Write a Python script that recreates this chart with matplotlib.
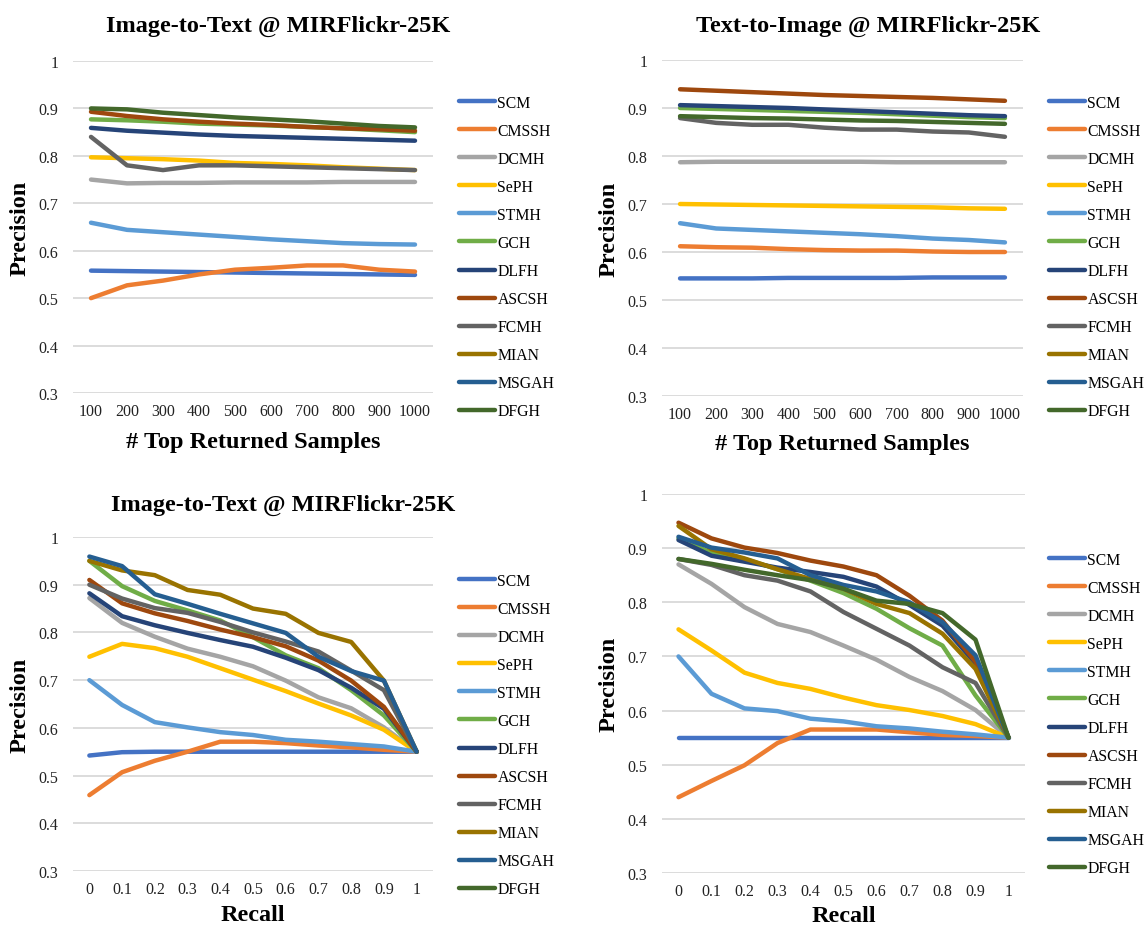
import numpy as np
import matplotlib
matplotlib.use("Agg")
import matplotlib.pyplot as plt

# Figure size in pixels (dpi=100)
W, H = 1146, 929

plt.rcParams['font.family'] = ['Liberation Serif', 'DejaVu Serif']

# Methods and Excel-like colours
methods = ["SCM", "CMSSH", "DCMH", "SePH", "STMH", "GCH",
           "DLFH", "ASCSH", "FCMH", "MIAN", "MSGAH", "DFGH"]
colors = ["#4472C4", "#ED7D31", "#A5A5A5", "#FFC000", "#5B9BD5", "#70AD47",
          "#264478", "#9E480E", "#636363", "#997300", "#255E91", "#43682B"]

topk_labels = ["100", "200", "300", "400", "500", "600", "700", "800", "900", "1000"]
recall_labels = ["0", "0.1", "0.2", "0.3", "0.4", "0.5", "0.6", "0.7", "0.8", "0.9", "1"]

NA = np.nan

# Image-to-Text, precision @ top-k
i2t_topk = {
    "SCM":   [0.558, 0.557, 0.556, 0.555, 0.554, 0.553, 0.552, 0.551, 0.550, 0.549],
    "CMSSH": [0.500, 0.527, 0.537, 0.550, 0.560, 0.564, 0.569, 0.569, 0.560, 0.556],
    "DCMH":  [0.750, 0.742, 0.743, 0.743, 0.744, 0.744, 0.744, 0.745, 0.745, 0.745],
    "SePH":  [0.797, 0.795, 0.793, 0.790, 0.785, 0.783, 0.780, 0.776, 0.773, 0.770],
    "STMH":  [0.659, 0.644, 0.639, 0.634, 0.629, 0.624, 0.620, 0.616, 0.614, 0.613],
    "GCH":   [0.877, 0.875, 0.872, 0.868, 0.866, 0.864, 0.861, 0.858, 0.854, 0.850],
    "DLFH":  [0.859, 0.853, 0.849, 0.845, 0.842, 0.840, 0.838, 0.836, 0.834, 0.832],
    "ASCSH": [0.893, 0.884, 0.877, 0.872, 0.868, 0.865, 0.861, 0.858, 0.856, 0.853],
    "FCMH":  [0.840, 0.780, 0.770, 0.780, 0.780, 0.778, 0.776, 0.774, 0.772, 0.770],
    "MIAN":  [NA] * 10,
    "MSGAH": [NA] * 10,
    "DFGH":  [0.900, 0.898, 0.891, 0.886, 0.881, 0.877, 0.873, 0.868, 0.863, 0.860],
}

# Text-to-Image, precision @ top-k
t2i_topk = {
    "SCM":   [0.545, 0.545, 0.545, 0.546, 0.546, 0.546, 0.546, 0.547, 0.547, 0.547],
    "CMSSH": [0.612, 0.610, 0.609, 0.606, 0.604, 0.603, 0.603, 0.601, 0.600, 0.600],
    "DCMH":  [0.787, 0.788, 0.788, 0.788, 0.788, 0.788, 0.787, 0.787, 0.787, 0.787],
    "SePH":  [0.700, 0.699, 0.698, 0.697, 0.696, 0.695, 0.694, 0.693, 0.691, 0.690],
    "STMH":  [0.660, 0.649, 0.646, 0.643, 0.640, 0.637, 0.633, 0.628, 0.625, 0.620],
    "GCH":   [0.900, 0.898, 0.896, 0.894, 0.892, 0.890, 0.887, 0.884, 0.881, 0.879],
    "DLFH":  [0.906, 0.904, 0.902, 0.900, 0.897, 0.894, 0.891, 0.888, 0.885, 0.883],
    "ASCSH": [0.939, 0.936, 0.933, 0.930, 0.927, 0.925, 0.923, 0.921, 0.918, 0.915],
    "FCMH":  [0.879, 0.869, 0.865, 0.865, 0.859, 0.855, 0.855, 0.851, 0.849, 0.840],
    "MIAN":  [NA] * 10,
    "MSGAH": [NA] * 10,
    "DFGH":  [0.883, 0.881, 0.879, 0.878, 0.876, 0.874, 0.873, 0.871, 0.869, 0.867],
}

# Image-to-Text, precision-recall
i2t_pr = {
    "SCM":   [0.542, 0.549, 0.550, 0.550, 0.550, 0.550, 0.550, 0.550, 0.550, 0.550, 0.550],
    "CMSSH": [0.459, 0.507, 0.531, 0.550, 0.571, 0.571, 0.568, 0.563, 0.559, 0.554, 0.550],
    "DCMH":  [0.872, 0.820, 0.791, 0.766, 0.749, 0.729, 0.699, 0.664, 0.641, 0.601, 0.550],
    "SePH":  [0.749, 0.776, 0.767, 0.749, 0.725, 0.701, 0.677, 0.651, 0.626, 0.596, 0.550],
    "STMH":  [0.700, 0.648, 0.612, 0.601, 0.591, 0.585, 0.575, 0.571, 0.566, 0.561, 0.550],
    "GCH":   [0.950, 0.897, 0.866, 0.846, 0.825, 0.790, 0.752, 0.725, 0.679, 0.626, 0.550],
    "DLFH":  [0.882, 0.834, 0.815, 0.799, 0.784, 0.770, 0.747, 0.721, 0.684, 0.640, 0.550],
    "ASCSH": [0.910, 0.861, 0.840, 0.824, 0.806, 0.790, 0.771, 0.741, 0.699, 0.644, 0.550],
    "FCMH":  [0.900, 0.871, 0.851, 0.841, 0.822, 0.800, 0.781, 0.760, 0.720, 0.679, 0.550],
    "MIAN":  [0.950, 0.930, 0.920, 0.889, 0.879, 0.850, 0.839, 0.799, 0.780, 0.699, 0.550],
    "MSGAH": [0.959, 0.939, 0.880, 0.860, 0.839, 0.819, 0.799, 0.749, 0.719, 0.699, 0.550],
    "DFGH":  [NA] * 11,
}

# Text-to-Image, precision-recall
t2i_pr = {
    "SCM":   [0.550, 0.550, 0.550, 0.550, 0.550, 0.550, 0.550, 0.550, 0.550, 0.550, 0.550],
    "CMSSH": [0.440, 0.470, 0.499, 0.540, 0.565, 0.565, 0.565, 0.560, 0.555, 0.553, 0.550],
    "DCMH":  [0.870, 0.834, 0.791, 0.760, 0.745, 0.720, 0.694, 0.662, 0.636, 0.601, 0.550],
    "SePH":  [0.750, 0.711, 0.670, 0.651, 0.640, 0.624, 0.610, 0.601, 0.590, 0.575, 0.550],
    "STMH":  [0.700, 0.631, 0.604, 0.599, 0.585, 0.580, 0.571, 0.567, 0.561, 0.556, 0.550],
    "GCH":   [0.918, 0.891, 0.880, 0.861, 0.840, 0.817, 0.788, 0.752, 0.720, 0.628, 0.550],
    "DLFH":  [0.915, 0.886, 0.875, 0.864, 0.856, 0.847, 0.829, 0.795, 0.757, 0.687, 0.550],
    "ASCSH": [0.947, 0.918, 0.901, 0.891, 0.877, 0.866, 0.850, 0.812, 0.766, 0.690, 0.550],
    "FCMH":  [0.880, 0.869, 0.850, 0.840, 0.820, 0.782, 0.751, 0.720, 0.680, 0.651, 0.550],
    "MIAN":  [0.941, 0.898, 0.881, 0.861, 0.843, 0.825, 0.797, 0.780, 0.742, 0.677, 0.550],
    "MSGAH": [0.921, 0.901, 0.892, 0.881, 0.850, 0.832, 0.820, 0.800, 0.763, 0.702, 0.550],
    "DFGH":  [0.880, 0.871, 0.860, 0.850, 0.841, 0.825, 0.803, 0.797, 0.780, 0.731, 0.550],
}


def fx(x):
    return x / W


def fy(y):
    return 1 - y / H


def make_axes(fig, x0, y0, x1, y1):
    # Axes placed by pixel box (top-left origin)
    return fig.add_axes([fx(x0), fy(y1), (x1 - x0) / W, (y1 - y0) / H])


# Draw one panel: lines, grid, ticks, legend
def draw_panel(fig, box, data, xlabels, xlabel, title, title_xy, legend_xy, ylabel_x, xlabel_y):
    ax = make_axes(fig, *box)
    xs = np.arange(len(xlabels))
    for name, col in zip(methods, colors):
        ax.plot(xs, data[name], color=col, lw=3.2, label=name,
                solid_capstyle='round', solid_joinstyle='round')

    ax.set_xlim(-0.5, len(xlabels) - 0.5)
    ax.set_ylim(0.3, 1.0)
    ax.set_yticks([0.3, 0.4, 0.5, 0.6, 0.7, 0.8, 0.9, 1.0])
    ax.set_yticklabels(["0.3", "0.4", "0.5", "0.6", "0.7", "0.8", "0.9", "1"])
    ax.set_xticks(xs)
    ax.set_xticklabels(xlabels)
    ax.tick_params(axis='both', length=0, labelsize=11.5, colors='#222222')
    ax.tick_params(axis='y', pad=10.5)
    ax.tick_params(axis='x', pad=7)
    ax.grid(axis='y', color='#D9D9D9', lw=1.3)
    ax.set_axisbelow(True)
    for sp in ax.spines.values():
        sp.set_visible(False)

    # Axis labels and title as figure text
    x0, y0, x1, y1 = box
    fig.text(fx(ylabel_x), fy((y0 + y1) / 2), "Precision", rotation=90,
             fontsize=17.5, fontweight='bold', ha='center', va='center')
    fig.text(fx((x0 + x1) / 2), fy(xlabel_y), xlabel,
             fontsize=17.5, fontweight='bold', ha='center', va='center')
    if title:
        fig.text(fx(title_xy[0]), fy(title_xy[1]), title,
                 fontsize=17.5, fontweight='bold', ha='center', va='center')

    # Legend: rows 28 px apart, first row centre at legend_xy[1]
    lx, ly = legend_xy
    mid = ly + 28 * 11 / 2
    ax.legend(loc='center left', bbox_to_anchor=(fx(lx), fy(mid)),
              bbox_transform=fig.transFigure, frameon=False, fontsize=11.3,
              handlelength=2.3, handletextpad=0.15, labelspacing=0.77,
              borderpad=0, borderaxespad=0)
    return ax


def main():
    fig = plt.figure(figsize=(W / 100, H / 100), dpi=100)

    draw_panel(fig, (73, 62, 433, 394), i2t_topk, topk_labels, "# Top Returned Samples",
               "Image-to-Text @ MIRFlickr-25K", (278, 26), (459, 104), 20, 443)
    draw_panel(fig, (662, 61, 1023, 397), t2i_topk, topk_labels, "# Top Returned Samples",
               "Text-to-Image @ MIRFlickr-25K", (868, 26), (1049, 104), 609, 445)
    draw_panel(fig, (73, 538, 433, 872), i2t_pr, recall_labels, "Recall",
               "Image-to-Text @ MIRFlickr-25K", (283, 505), (459, 582), 20, 916)
    draw_panel(fig, (662, 495, 1025, 874), t2i_pr, recall_labels, "Recall",
               None, None, (1049, 561), 609, 917)

    fig.savefig("out.png", dpi=100, facecolor='white')


if __name__ == "__main__":
    main()
